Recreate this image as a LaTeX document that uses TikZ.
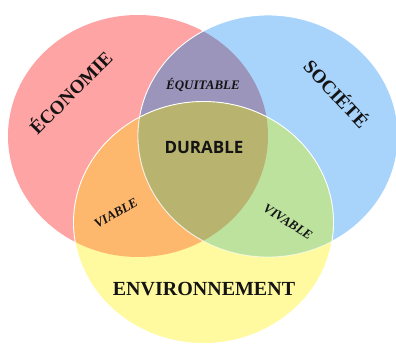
\documentclass[tikz,border=0pt]{standalone}
\usepackage{fontspec}
\setmainfont{Liberation Serif}
\setsansfont{Open Sans}
\definecolor{ecoRed}{HTML}{FFA4A4}
\definecolor{socBlue}{HTML}{A8D4FC}
\definecolor{envYellow}{HTML}{FFFA9F}
\definecolor{equPurple}{HTML}{9B94BB}
\definecolor{viaOrange}{HTML}{FDB86D}
\definecolor{vivGreen}{HTML}{BCE29E}
\definecolor{durOlive}{HTML}{B8B46F}

\begin{document}
\begin{tikzpicture}[
        x=1pt, y=1pt,
        ring/.style={x radius=130, y radius=121}, % circles, squeezed a bit
        every node/.style={inner sep=0pt, text=black!92},
        pole/.style={font=\bfseries\fontsize{19}{19}\selectfont},
        overlap/.style={font=\bfseries\itshape\fontsize{13}{13}\selectfont},
        edge/.style={draw=white, line width=0.9pt}
      ]
      \useasboundingbox (0,0) rectangle (396,345);

      % Centres
      \coordinate (eco) at (138,209);
      \coordinate (soc) at (268,209);
      \coordinate (env) at (203.5,122.5);

      % Circles and overlaps
      \fill[ecoRed] (eco) ellipse [ring];
      \fill[socBlue] (soc) ellipse [ring];
      \begin{scope}
        \clip (eco) ellipse [ring];
        \fill[equPurple] (soc) ellipse [ring];
      \end{scope}
      \draw[edge] (soc) ellipse [ring];
      \fill[envYellow] (env) ellipse [ring];
      \begin{scope}
        \clip (env) ellipse [ring];
        \fill[viaOrange] (eco) ellipse [ring];
        \fill[vivGreen] (soc) ellipse [ring];
        \draw[edge, draw opacity=0.6] (soc) ellipse [ring];
        \clip (eco) ellipse [ring];
        \fill[durOlive] (soc) ellipse [ring];
        \draw[edge, draw opacity=0.7] (soc) ellipse [ring];
      \end{scope}
      \draw[edge] (env) ellipse [ring];

      % Labels
      \node (economie) [pole, rotate=45] at (70,253) {ÉCONOMIE};
      \node (societe) [pole, rotate=-47] at (337,252) {SOCIÉTÉ};
      \node (environnement) [pole, font=\bfseries\fontsize{20}{20}\selectfont] at (204,56) {ENVIRONNEMENT};
      \node (equitable) [overlap] at (203,260) {ÉQUITABLE};
      \node (viable) [overlap, rotate=30] at (116,132) {VIABLE};
      \node (vivable) [overlap, rotate=-33] at (288,123) {VIVABLE};
      \node (durable) [font=\sffamily\bfseries\fontsize{17}{17}\selectfont] at (204,198) {DURABLE};

    \end{tikzpicture}
\end{document}
